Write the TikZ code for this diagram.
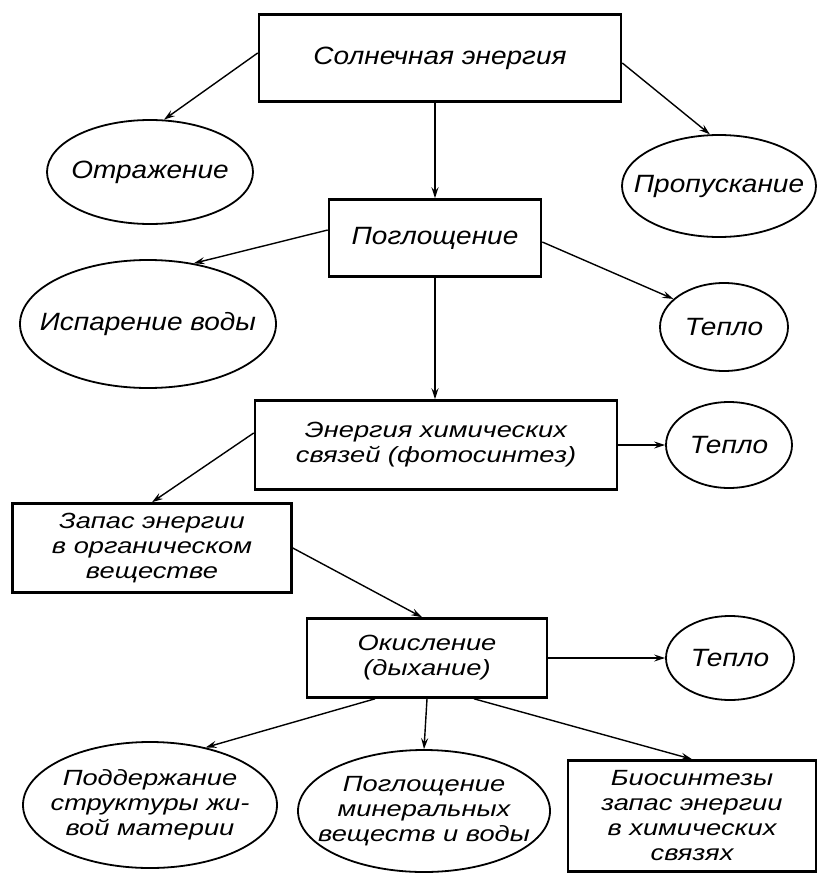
\documentclass[tikz,border=0pt]{standalone}
\usepackage{fontspec}
\setmainfont{Liberation Sans}[FakeStretch=1.12]
\newfontfamily\widefont{Liberation Sans}[FakeStretch=1.24]
\usetikzlibrary{shapes.geometric,arrows.meta}
\begin{document}
\begin{tikzpicture}[x=1pt,y=-1pt,
  txt/.style={font=\fontsize{25}{26}\selectfont\itshape, align=center, inner sep=0pt},
  mtxt/.style={font=\widefont\fontsize{22}{25}\selectfont\itshape, align=center, inner sep=0pt},
  boxnode/.style={draw, line width=2.6pt, rectangle, inner sep=0pt},
  ellnode/.style={draw, line width=1.8pt, ellipse, inner sep=0pt},
  arr/.style={line width=1.4pt, -{Stealth[length=11pt,width=7pt,inset=4pt]}}
]
\useasboundingbox (0,0) rectangle (817,875);

% boxes
\node[boxnode, txt, minimum width=362pt, minimum height=87pt] (sun) at (440,58) {Солнечная энергия};
\node[boxnode, txt, minimum width=212pt, minimum height=77pt] (pog) at (435,238) {Поглощение};
\node[boxnode, mtxt, minimum width=362pt, minimum height=89pt] (en) at (436,445) {Энергия химических\\связей (фотосинтез)};
\node[boxnode, mtxt, minimum width=279pt, minimum height=89pt] (zap) at (152,548) {Запас энергии\\в органическом\\веществе};
\node[boxnode, mtxt, minimum width=240pt, minimum height=79pt] (ok) at (427,658) {Окисление\\(дыхание)};
\node[boxnode, mtxt, minimum width=248pt, minimum height=111pt] (bio) at (692,816) {Биосинтезы\\запас энергии\\в химических\\связях};

% ellipses
\node[ellnode, minimum width=206pt, minimum height=104pt] (otr) at (150,172) {};
\node[txt] (totr) at (otr.center) {Отражение};
\node[ellnode, minimum width=194pt, minimum height=102pt] (prop) at (719,186) {};
\node[txt] (tprop) at (prop.center) {Пропускание};
\node[ellnode, minimum width=256pt, minimum height=128pt] (isp) at (148,324) {};
\node[txt] (tisp) at (isp.center) {Испарение воды};
\node[ellnode, minimum width=128pt, minimum height=88pt] (tep1) at (724,327) {};
\node[txt] (ttep1) at (tep1.center) {Тепло};
\node[ellnode, minimum width=126pt, minimum height=86pt] (tep2) at (729,445) {};
\node[txt] (ttep2) at (tep2.center) {Тепло};
\node[ellnode, minimum width=128pt, minimum height=84pt] (tep3) at (730,658) {};
\node[txt] (ttep3) at (tep3.center) {Тепло};
\node[ellnode, minimum width=254pt, minimum height=126pt] (pod) at (150,805) {};
\node[mtxt] (tpod) at (pod.center) {Поддержание\\структуры жи-\\вой материи};
\node[ellnode, minimum width=252pt, minimum height=122pt] (mine) at (424,811) {};
\node[mtxt] (tmine) at (mine.center) {Поглощение\\минеральных\\веществ и воды};

% connectors
\draw[arr] (sun.south -| pog.north) -- (pog.north);
\draw[arr] ([yshift=5pt]sun.west) -- (otr.75);
\draw[arr] ([yshift=-5pt]sun.east) -- (prop.100);
\draw[arr] ([yshift=8pt]pog.west) -- (isp.53);
\draw[arr] ([yshift=-4pt]pog.east) -- (tep1.151);
\draw[arr] (pog.south) -- (pog.south |- en.north);
\draw[arr] (en.east) -- (tep2.west);
\draw[arr] ([yshift=12pt]en.west) -- (zap.north);
\draw[arr] (zap.east) -- ([xshift=-5pt]ok.north);
\draw[arr] (ok.east) -- (tep3.west);
\draw[arr] ([xshift=-52pt]ok.south) -- (pod.46);
\draw[arr] (ok.south) -- (mine.north);
\draw[arr] ([xshift=47pt]ok.south) -- (bio.north);
\end{tikzpicture}
\end{document}
